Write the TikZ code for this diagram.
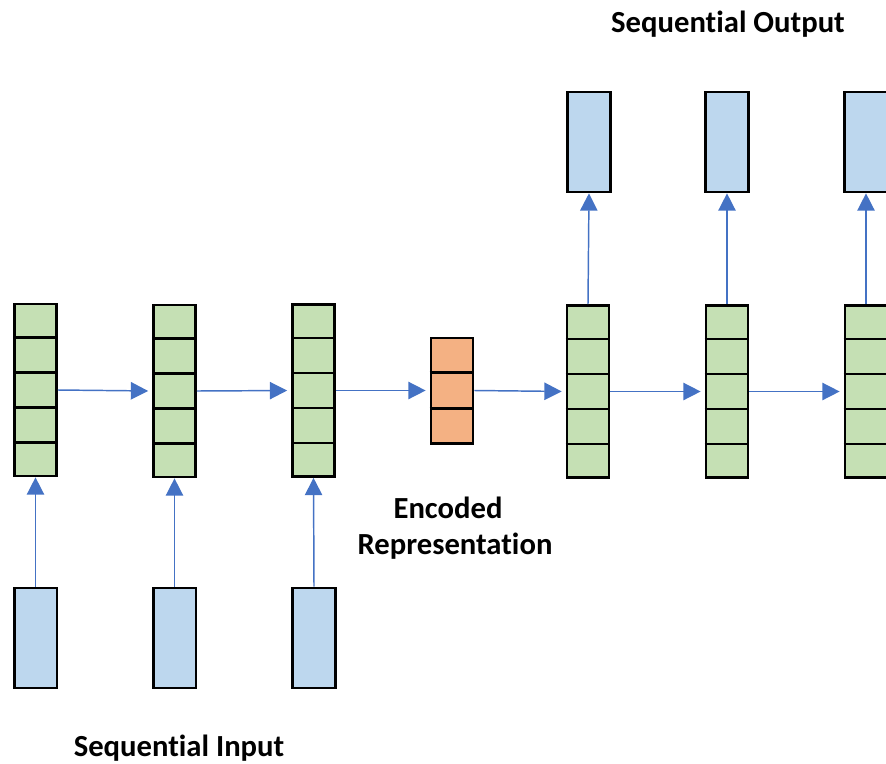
\documentclass[tikz,border=0pt]{standalone}
\usepackage{fontspec}
\setmainfont{Carlito}[Ligatures=NoCommon]
\usetikzlibrary{arrows.meta,calc}
\definecolor{cellgreen}{HTML}{C5E0B4}
\definecolor{cellblue}{HTML}{BDD7EE}
\definecolor{cellorange}{HTML}{F4B183}
\definecolor{arrowblue}{HTML}{4472C4}
\tikzset{
  stackbox/.style={draw=black, line width=2pt, fill=cellgreen, inner sep=0pt,
    minimum width=31.5pt, minimum height=129pt},
  encbox/.style={draw=black, line width=2pt, fill=cellorange, inner sep=0pt,
    minimum width=31.5pt, minimum height=79pt},
  iobox/.style={draw=black, line width=2pt, fill=cellblue, inner sep=0pt,
    minimum width=32pt, minimum height=75pt},
  divider/.style={draw=black, line width=2pt},
  conn/.style={draw=arrowblue, line width=1.1pt, -{Triangle[length=13pt,width=13pt]}},
  lbl/.style={font=\fontsize{23}{28}\selectfont\bfseries, inner sep=0pt}
}
\begin{document}
\begin{tikzpicture}[x=0.75pt,y=-0.75pt]
\useasboundingbox (0,0) rectangle (886,764);
% encoder stacks
\node[stackbox] (e1) at (35.5,390) {};
\node[stackbox] (e2) at (174.5,391) {};
\node[stackbox] (e3) at (313.5,390.5) {};
% encoded representation
\node[encbox] (enc) at (452,390.5) {};
% decoder stacks
\node[stackbox] (d1) at (588,391.5) {};
\node[stackbox] (d2) at (727,391.5) {};
\node[stackbox] (d3) at (866,391.5) {};
% cell dividers
\foreach \s in {e1,e2,e3,d1,d2,d3}{
  \foreach \f in {0.2,0.4,0.6,0.8}{
    \draw[divider] ($(\s.north west)!\f!(\s.south west)$) -- ($(\s.north east)!\f!(\s.south east)$);
  }
}
\foreach \f in {0.3333,0.6667}{
  \draw[divider] ($(enc.north west)!\f!(enc.south west)$) -- ($(enc.north east)!\f!(enc.south east)$);
}
% input boxes
\node[iobox] (i1) at (35.5,638) {};
\node[iobox] (i2) at (174.5,638) {};
\node[iobox] (i3) at (314,638) {};
% output boxes
\node[iobox] (o1) at (589,142) {};
\node[iobox] (o2) at (727,142) {};
\node[iobox] (o3) at (866,142) {};
% connectors
\draw[conn, shorten >=3pt] (e1.east) -- (e2.west);
\draw[conn, shorten >=3pt] (e2.east) -- (e3.west);
\draw[conn, shorten >=3pt] (e3.east) -- (enc.west);
\draw[conn, shorten >=3pt] (enc.east) -- (d1.west);
\draw[conn, shorten >=3pt] (d1.east) -- (d2.west);
\draw[conn, shorten >=3pt] (d2.east) -- (d3.west);
\draw[conn] (i1.north) -- (e1.south);
\draw[conn] (i2.north) -- (e2.south);
\draw[conn] (i3.north) -- (e3.south);
\draw[conn] (d1.north) -- (o1.south);
\draw[conn] (d2.north) -- (o2.south);
\draw[conn] (d3.north) -- (o3.south);
% labels
\node[lbl] (tout) at (728,24) {Sequential Output};
\node[lbl] (tin) at (179,748) {Sequential Input};
\node[lbl] (tenc1) at (448,508) {Encoded};
\node[lbl] (tenc2) at (455,546) {Representation};
\end{tikzpicture}
\end{document}
